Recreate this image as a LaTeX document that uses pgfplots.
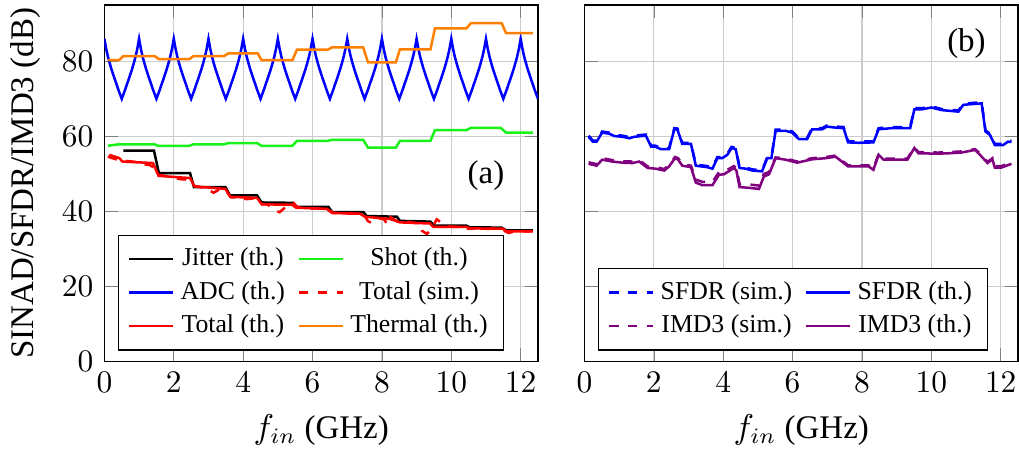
\documentclass[border=0pt]{standalone}
\usepackage{fontspec}
\setmainfont{Liberation Serif}
\usepackage{pgfplots}
\pgfplotsset{compat=1.18}
\definecolor{imd}{rgb}{0.5,0,0.5}
\definecolor{shotg}{rgb}{0.1,0.95,0.1}
\definecolor{thermo}{rgb}{1,0.5,0}
\pgfplotsset{
  panel/.style={
    scale only axis,
    width=138.1pt, height=113.6pt,
    xmin=0, xmax=12.5, ymin=0, ymax=95,
    xtick={0,2,4,6,8,10,12},
    ytick={0,20,40,60,80},
    grid=major,
    major grid style={black!20},
    tick label style={font=\fontsize{10}{12}\selectfont},
    label style={font=\fontsize{10.5}{12}\selectfont},
    xlabel={$f_{in}$ (GHz)},
    legend style={font=\fontsize{8.2}{9.7}\selectfont, at={(0.031,0.031)}, anchor=south west,
      /tikz/every even column/.append style={column sep=2pt}, row sep=-0.5pt},
    legend image code/.code={\draw[mark repeat=2,mark phase=2,##1] plot coordinates {(0pt,0pt) (7pt,0pt) (14pt,0pt)};},
    legend cell align=center,
    legend columns=2,
  }
}
\begin{document}
\begin{tikzpicture}
\begin{axis}[panel, name=L, ylabel={SINAD/SFDR/IMD3 (dB)}, at={(0,0)}, anchor=south west]
% Jitter (th.)
\addplot[black, thick] coordinates {
(0.55,56.2)(1.43,56.2)(1.57,50.2)(2.47,50.2)(2.58,46.5)(3.49,46.5)(3.62,44.3)(4.40,44.3)(4.53,42.4)(5.44,42.3)(5.55,41.2)(6.46,41.2)(6.57,39.8)(7.47,39.8)(7.56,38.8)(8.43,38.6)(8.52,37.5)(9.40,37.3)(9.50,36.2)(10.44,36.2)(10.53,35.8)(11.45,35.7)(11.58,35.0)(12.35,35.0)
};
\addlegendentry{Jitter (th.)}
% Shot (th.)
\addplot[shotg, thick] coordinates {
(0.10,57.5)(0.42,57.9)(1.43,57.9)(1.55,57.5)(2.45,57.5)(2.57,57.9)(3.45,57.9)(3.57,58.2)(4.40,58.2)(4.53,57.5)(5.42,57.5)(5.55,58.8)(6.44,58.8)(6.56,59.1)(7.46,59.1)(7.60,57.0)(8.40,57.0)(8.52,58.8)(9.40,58.8)(9.53,61.7)(10.44,61.7)(10.57,62.3)(11.42,62.3)(11.58,61.0)(12.35,61.0)
};
\addlegendentry{Shot (th.)}
% ADC (th.)
\addplot[blue, thick] coordinates {
(0,86)(0.05,83.4)(0.1,81.3)(0.15,79.6)(0.2,78.0)(0.25,76.6)(0.3,75.2)(0.35,73.9)(0.4,72.5)(0.45,71.25)(0.5,70.0)(0.55,71.25)(0.6,72.5)(0.65,73.9)(0.7,75.2)(0.75,76.6)(0.8,78.0)(0.85,79.6)(0.9,81.3)(0.95,83.4)
(1,86)(1.05,83.4)(1.1,81.3)(1.15,79.6)(1.2,78.0)(1.25,76.6)(1.3,75.2)(1.35,73.9)(1.4,72.5)(1.45,71.25)(1.5,70.0)(1.55,71.25)(1.6,72.5)(1.65,73.9)(1.7,75.2)(1.75,76.6)(1.8,78.0)(1.85,79.6)(1.9,81.3)(1.95,83.4)
(2,86)(2.05,83.4)(2.1,81.3)(2.15,79.6)(2.2,78.0)(2.25,76.6)(2.3,75.2)(2.35,73.9)(2.4,72.5)(2.45,71.25)(2.5,70.0)(2.55,71.25)(2.6,72.5)(2.65,73.9)(2.7,75.2)(2.75,76.6)(2.8,78.0)(2.85,79.6)(2.9,81.3)(2.95,83.4)
(3,86)(3.05,83.4)(3.1,81.3)(3.15,79.6)(3.2,78.0)(3.25,76.6)(3.3,75.2)(3.35,73.9)(3.4,72.5)(3.45,71.25)(3.5,70.0)(3.55,71.25)(3.6,72.5)(3.65,73.9)(3.7,75.2)(3.75,76.6)(3.8,78.0)(3.85,79.6)(3.9,81.3)(3.95,83.4)
(4,86)(4.05,83.4)(4.1,81.3)(4.15,79.6)(4.2,78.0)(4.25,76.6)(4.3,75.2)(4.35,73.9)(4.4,72.5)(4.45,71.25)(4.5,70.0)(4.55,71.25)(4.6,72.5)(4.65,73.9)(4.7,75.2)(4.75,76.6)(4.8,78.0)(4.85,79.6)(4.9,81.3)(4.95,83.4)
(5,86)(5.05,83.4)(5.1,81.3)(5.15,79.6)(5.2,78.0)(5.25,76.6)(5.3,75.2)(5.35,73.9)(5.4,72.5)(5.45,71.25)(5.5,70.0)(5.55,71.25)(5.6,72.5)(5.65,73.9)(5.7,75.2)(5.75,76.6)(5.8,78.0)(5.85,79.6)(5.9,81.3)(5.95,83.4)
(6,86)(6.05,83.4)(6.1,81.3)(6.15,79.6)(6.2,78.0)(6.25,76.6)(6.3,75.2)(6.35,73.9)(6.4,72.5)(6.45,71.25)(6.5,70.0)(6.55,71.25)(6.6,72.5)(6.65,73.9)(6.7,75.2)(6.75,76.6)(6.8,78.0)(6.85,79.6)(6.9,81.3)(6.95,83.4)
(7,86)(7.05,83.4)(7.1,81.3)(7.15,79.6)(7.2,78.0)(7.25,76.6)(7.3,75.2)(7.35,73.9)(7.4,72.5)(7.45,71.25)(7.5,70.0)(7.55,71.25)(7.6,72.5)(7.65,73.9)(7.7,75.2)(7.75,76.6)(7.8,78.0)(7.85,79.6)(7.9,81.3)(7.95,83.4)
(8,86)(8.05,83.4)(8.1,81.3)(8.15,79.6)(8.2,78.0)(8.25,76.6)(8.3,75.2)(8.35,73.9)(8.4,72.5)(8.45,71.25)(8.5,70.0)(8.55,71.25)(8.6,72.5)(8.65,73.9)(8.7,75.2)(8.75,76.6)(8.8,78.0)(8.85,79.6)(8.9,81.3)(8.95,83.4)
(9,86)(9.05,83.4)(9.1,81.3)(9.15,79.6)(9.2,78.0)(9.25,76.6)(9.3,75.2)(9.35,73.9)(9.4,72.5)(9.45,71.25)(9.5,70.0)(9.55,71.25)(9.6,72.5)(9.65,73.9)(9.7,75.2)(9.75,76.6)(9.8,78.0)(9.85,79.6)(9.9,81.3)(9.95,83.4)
(10,86)(10.05,83.4)(10.1,81.3)(10.15,79.6)(10.2,78.0)(10.25,76.6)(10.3,75.2)(10.35,73.9)(10.4,72.5)(10.45,71.25)(10.5,70.0)(10.55,71.25)(10.6,72.5)(10.65,73.9)(10.7,75.2)(10.75,76.6)(10.8,78.0)(10.85,79.6)(10.9,81.3)(10.95,83.4)
(11,86)(11.05,83.4)(11.1,81.3)(11.15,79.6)(11.2,78.0)(11.25,76.6)(11.3,75.2)(11.35,73.9)(11.4,72.5)(11.45,71.25)(11.5,70.0)(11.55,71.25)(11.6,72.5)(11.65,73.9)(11.7,75.2)(11.75,76.6)(11.8,78.0)(11.85,79.6)(11.9,81.3)(11.95,83.4)
(12,86)(12.05,83.4)(12.1,81.3)(12.15,79.6)(12.2,78.0)(12.25,76.6)(12.3,75.2)(12.35,73.9)(12.4,72.5)(12.45,71.25)(12.5,70.0)
};
\addlegendentry{ADC (th.)}
% Total (sim.)
\addplot[red, thick, dashed] coordinates {
(0.10,54.6)(0.30,54.0)(0.50,53.6)(0.70,53.4)(0.90,53.2)(1.10,52.6)(1.30,52.4)(1.45,51.6)(1.55,49.8)(1.80,49.4)(2.00,49.0)(2.20,48.6)(2.40,48.5)(2.55,46.9)(2.75,46.5)(2.95,46.0)(3.15,45.0)(3.30,45.8)(3.50,45.5)(3.65,43.8)(3.90,43.6)(4.10,43.3)(4.30,43.5)(4.50,42.0)(4.70,41.9)(4.90,40.4)(5.05,39.8)(5.25,41.4)(5.45,42.3)(5.55,41.2)(5.80,40.9)(6.00,40.8)(6.20,40.8)(6.45,40.5)(6.60,39.6)(6.90,39.6)(7.10,39.4)(7.30,39.5)(7.50,38.9)(7.60,37.4)(7.70,37.0)(7.90,38.2)(8.05,38.0)(8.17,36.5)(8.25,38.5)(8.45,37.3)(8.70,37.3)(8.90,37.0)(9.05,36.8)(9.15,34.9)(9.30,34.0)(9.45,35.7)(9.58,37.9)(9.72,37.0)(9.90,36.0)(10.10,35.9)(10.30,35.8)(10.50,35.4)(10.70,35.5)(10.90,35.3)(11.10,35.4)(11.30,35.5)(11.50,35.0)(11.65,34.3)(11.80,34.6)(12.00,34.8)(12.20,34.7)(12.40,34.9)
};
\addlegendentry{Total (sim.)}
% Total (th.)
\addplot[red, thick] coordinates {
(0.14,55.1)(0.43,54.2)(0.52,53.3)(1.40,52.9)(1.56,49.5)(2.47,48.9)(2.60,46.7)(3.49,46.0)(3.63,43.9)(4.40,43.6)(4.54,41.9)(5.41,41.8)(5.53,41.0)(6.41,40.7)(6.56,39.6)(7.37,39.4)(7.51,38.6)(8.23,38.0)(8.43,37.4)(8.52,37.1)(9.38,36.8)(9.48,35.9)(10.44,35.9)(10.53,35.5)(11.49,35.4)(11.59,34.7)(12.35,34.7)
};
\addlegendentry{Total (th.)}
% Thermal (th.)
\addplot[thermo, thick] coordinates {
(0.10,80.3)(0.42,80.3)(0.55,81.4)(1.45,81.4)(1.57,80.6)(2.45,80.6)(2.57,81.4)(3.45,81.4)(3.57,82.1)(4.42,82.1)(4.53,80.3)(5.42,80.3)(5.55,83.1)(6.44,83.1)(6.56,83.7)(7.46,83.7)(7.60,79.7)(8.40,79.7)(8.52,83.2)(9.40,83.2)(9.53,88.8)(10.44,88.8)(10.57,90.2)(11.45,90.2)(11.58,87.5)(12.35,87.5)
};
\addlegendentry{Thermal (th.)}
\node[font=\fontsize{10.5}{12}\selectfont] at (axis description cs:0.88,0.522) {(a)};
\end{axis}
\begin{axis}[panel, name=R, yticklabels={}, at={(152.9pt,0)}, anchor=south west]
% SFDR (sim.)
\addplot[blue, thick, dashed] coordinates {
(0.12,60.2)(0.24,58.9)(0.35,58.9)(0.51,61.3)(0.72,61.0)(0.86,60.4)(1.10,60.2)(1.29,59.8)(1.44,60.2)(1.77,60.5)(1.92,57.6)(2.06,57.5)(2.20,56.9)(2.44,56.9)(2.59,62.2)(2.68,62.1)(2.82,58.3)(3.07,58.3)(3.21,52.5)(3.54,52.1)(3.69,51.7)(3.83,54.5)(3.97,54.5)(4.12,55.4)(4.24,57.2)(4.36,56.9)(4.47,51.9)(4.65,51.7)(4.84,51.2)(5.12,51.0)(5.27,54.5)(5.39,54.5)(5.51,61.8)(5.80,61.8)(5.99,61.3)(6.18,59.6)(6.42,59.6)(6.56,62.2)(6.85,62.2)(6.99,62.9)(7.28,62.6)(7.47,62.5)(7.60,58.7)(7.90,58.6)(8.33,58.7)(8.48,62.2)(8.86,62.5)(9.39,62.5)(9.51,67.5)(9.72,67.5)(10.00,68.0)(10.30,67.3)(10.78,66.9)(10.92,68.7)(11.16,68.9)(11.45,69.1)(11.56,61.6)(11.69,60.7)(11.83,58.0)(12.07,58.0)(12.21,58.9)(12.31,58.8)
};
\addlegendentry{SFDR (sim.)}
% SFDR (th.)
\addplot[blue, thick] coordinates {
(0.12,59.9)(0.24,58.6)(0.35,58.6)(0.51,61.0)(0.72,60.7)(0.86,60.1)(1.10,59.9)(1.29,59.5)(1.44,59.9)(1.77,60.2)(1.92,57.3)(2.06,57.2)(2.20,56.6)(2.44,56.6)(2.59,61.9)(2.68,61.8)(2.82,58.0)(3.07,58.0)(3.21,52.2)(3.54,51.8)(3.69,51.4)(3.83,54.2)(3.97,54.2)(4.12,55.1)(4.24,56.9)(4.36,56.6)(4.47,51.6)(4.65,51.4)(4.84,50.9)(5.12,50.7)(5.27,54.2)(5.39,54.2)(5.51,61.5)(5.80,61.5)(5.99,61.0)(6.18,59.3)(6.42,59.3)(6.56,61.9)(6.85,61.9)(6.99,62.6)(7.28,62.3)(7.47,62.2)(7.60,58.4)(7.90,58.3)(8.33,58.4)(8.48,61.9)(8.86,62.2)(9.39,62.2)(9.51,67.2)(9.72,67.2)(10.00,67.7)(10.30,67.0)(10.78,66.6)(10.92,68.4)(11.16,68.6)(11.45,68.8)(11.56,61.3)(11.69,60.4)(11.83,57.7)(12.07,57.7)(12.21,58.6)(12.31,58.5)
};
\addlegendentry{SFDR (th.)}
% IMD3 (sim.)
\addplot[imd, thick, dashed] coordinates {
(0.12,53.1)(0.35,52.6)(0.51,54.2)(0.80,53.7)(1.10,53.4)(1.38,53.3)(1.58,53.7)(1.82,52.0)(2.06,51.8)(2.30,51.3)(2.44,52.4)(2.61,54.5)(2.70,54.2)(2.82,52.6)(3.07,52.2)(3.21,48.5)(3.40,47.9)(3.69,47.9)(3.88,50.5)(4.02,50.6)(4.31,52.1)(4.38,51.5)(4.47,47.3)(4.75,47.2)(5.03,46.9)(5.17,50.0)(5.32,50.5)(5.51,54.4)(5.80,54.1)(6.13,53.3)(6.56,54.2)(6.96,54.5)(7.24,54.9)(7.60,52.3)(8.19,52.3)(8.33,51.5)(8.48,55.3)(8.62,54.1)(9.31,54.1)(9.51,57.1)(9.63,55.8)(10.20,55.7)(10.49,55.8)(10.87,56.0)(11.26,56.6)(11.36,55.8)(11.62,53.2)(11.76,54.2)(11.83,52.1)(12.02,52.1)(12.31,53.0)
};
\addlegendentry{IMD3 (sim.)}
% IMD3 (th.)
\addplot[imd, thick] coordinates {
(0.12,52.7)(0.35,52.2)(0.51,53.8)(0.80,53.3)(1.10,53.0)(1.38,52.9)(1.58,53.3)(1.82,51.6)(2.06,51.4)(2.30,50.9)(2.44,52.0)(2.61,54.2)(2.70,53.8)(2.82,52.2)(3.07,51.8)(3.21,47.7)(3.40,47.0)(3.69,47.0)(3.88,49.8)(4.02,49.9)(4.31,51.6)(4.38,50.9)(4.47,46.5)(4.75,46.3)(5.03,46.0)(5.17,49.3)(5.32,49.9)(5.51,54.2)(5.80,53.8)(6.13,53.0)(6.56,53.9)(6.96,54.2)(7.24,54.6)(7.60,52.0)(8.19,52.0)(8.33,51.1)(8.48,55.1)(8.62,53.8)(9.31,53.8)(9.51,56.9)(9.63,55.5)(10.20,55.4)(10.49,55.5)(10.87,55.7)(11.26,56.4)(11.36,55.5)(11.62,52.9)(11.76,53.9)(11.83,51.7)(12.02,51.7)(12.31,52.7)
};
\addlegendentry{IMD3 (th.)}
\node[font=\fontsize{10.5}{12}\selectfont] at (axis description cs:0.881,0.893) {(b)};
\end{axis}
\pgfresetboundingbox
\path (L.outer south west) rectangle ([yshift=1.6pt,xshift=0.3pt]R.north east);
\end{tikzpicture}
\end{document}
